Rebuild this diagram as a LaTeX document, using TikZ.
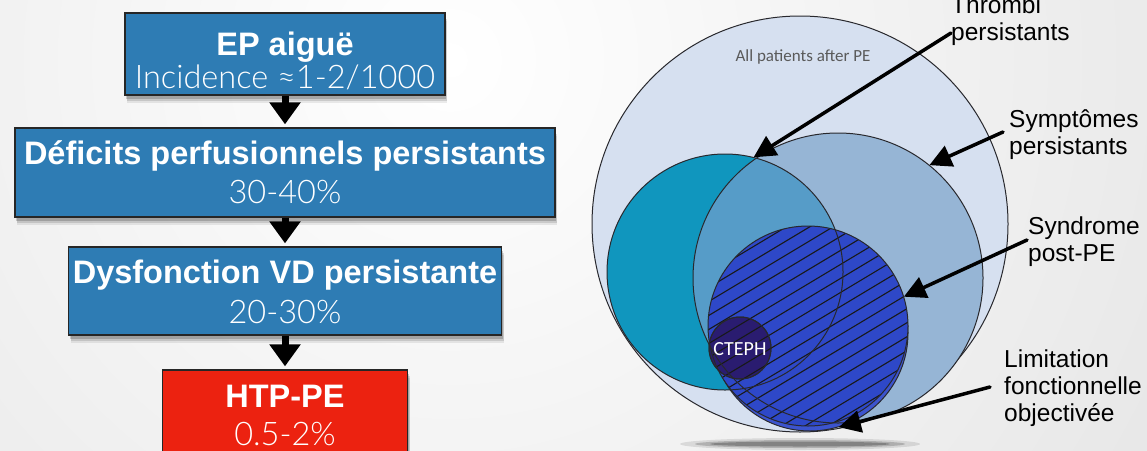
\documentclass[tikz,border=0pt]{standalone}
\usepackage{fontspec}
\setmainfont{Liberation Sans}
\newfontfamily\calibrifont{Carlito}
\IfFontExistsTF{Lato Light}
  {\newfontfamily\lightfont{Lato Light}}
  {\newfontfamily\lightfont{Liberation Sans}}
\usetikzlibrary{arrows.meta}

\definecolor{bggray}{RGB}{214,214,214}
\definecolor{boxblue}{RGB}{46,124,180}
\definecolor{boxred}{RGB}{236,34,16}
\definecolor{outerfill}{RGB}{214,224,240}
\definecolor{tealfill}{RGB}{16,150,190}
\definecolor{symfill}{RGB}{150,181,213}
\definecolor{overlapfill}{RGB}{86,156,200}
\definecolor{synfill}{RGB}{46,72,200}
\definecolor{limfill}{RGB}{60,84,206}
\definecolor{ctephfill}{RGB}{42,28,112}
\definecolor{labelgray}{RGB}{90,90,90}
\definecolor{edgegray}{RGB}{40,40,45}

\tikzset{
  flowbox/.style={rectangle, draw=black!85, line width=1.3pt, inner sep=0pt,
    align=center, text=white,
    preaction={fill=black, opacity=0.08, transform canvas={xshift=2pt, yshift=-8pt}},
    preaction={fill=black, opacity=0.12, transform canvas={xshift=2pt, yshift=-6pt}},
    preaction={fill=black, opacity=0.18, transform canvas={xshift=1pt, yshift=-4pt}}},
  bluebox/.style={flowbox, fill=boxblue},
  redbox/.style={flowbox, fill=boxred},
  flowarrow/.style={line width=7pt, black, -{Triangle[length=22pt, width=30pt]}, shorten >=3pt},
  sketcharrow/.style={line width=3.5pt, black, -{Triangle[length=22pt, width=22pt]}, line cap=round},
  calloutlbl/.style={font=\fontsize{24.5}{27}\selectfont, align=left, inner sep=0pt,
    anchor=west, text=black},
  disc/.style={circle, inner sep=0pt},
  ringline/.style={draw=edgegray, line width=1pt},
  hatchline/.style={draw=black!90, line width=1.1pt}
}

\begin{document}
\begin{tikzpicture}[x=1pt, y=-1pt]
\useasboundingbox (0,0) rectangle (1147,450);

% soft grey backdrop with a bright centre
\begin{scope}
  \clip (0,0) rectangle (1147,450);
  \fill[bggray] (0,0) rectangle (1147,450);
  \shade[inner color=white, outer color=bggray] (450,60) circle[radius=1400];
\end{scope}

% ---------------- flow chart ----------------
\node[bluebox, minimum width=320pt, minimum height=82pt,
      font=\fontsize{32.5}{33}\selectfont] (ep) at (285,54)
  {{\bfseries\rule{0pt}{37pt}EP aiguë}\\{\lightfont\rule[-2pt]{0pt}{2pt}Incidence ≈1-2/1000}};

\node[bluebox, minimum width=540pt, minimum height=89pt,
      font=\fontsize{32.5}{39}\selectfont] (def) at (285,172.5)
  {{\bfseries\rule{0pt}{25pt}Déficits perfusionnels persistants}\\{\lightfont\rule[-3pt]{0pt}{3pt}30-40\%}};

\node[bluebox, minimum width=433pt, minimum height=88pt,
      font=\fontsize{32.5}{40}\selectfont] (dys) at (285,291)
  {{\bfseries\rule{0pt}{27pt}Dysfonction VD persistante}\\{\lightfont\rule[-3pt]{0pt}{3pt}20-30\%}};

\node[redbox, minimum width=245pt, minimum height=100pt,
      font=\fontsize{32.5}{38}\selectfont] (htp) at (285,420)
  {{\bfseries\rule{0pt}{26pt}HTP-PE}\\{\lightfont\rule[-14pt]{0pt}{14pt}0.5-2\%}};

\draw[flowarrow] (ep.south) -- (def.north);
\draw[flowarrow] (def.south) -- (dys.north);
\draw[flowarrow] (dys.south) -- (htp.north);

% ---------------- nested circles ----------------
% shadow under the large disc
\fill[black, opacity=0.10] (800,444) ellipse[x radius=120, y radius=6];
\fill[black, opacity=0.18] (800,444) ellipse[x radius=105, y radius=4];
\fill[black, opacity=0.25] (800,444) ellipse[x radius=90, y radius=2.5];

\node[disc, fill=outerfill, draw=edgegray, line width=1pt, minimum size=416pt] (outer) at (800,224) {};
\node[disc, fill=tealfill, minimum size=236pt] (teal) at (725,272) {};
\node[disc, fill=symfill, minimum size=290pt] (sym) at (838,278) {};
\begin{scope}
  \clip (725,272) circle[radius=118];
  \fill[overlapfill] (838,278) circle[radius=145];
\end{scope}

\node[disc, fill=limfill, draw=edgegray, line width=1pt, minimum size=196pt] (lim) at (810,333) {};
\node[disc, fill=synfill, minimum size=200pt] (syn) at (808,326) {};
\node[disc, fill=ctephfill, draw=edgegray, line width=1pt, minimum size=62pt] (cteph) at (740,348) {};

% diagonal hatching of the post-PE syndrome disc
\begin{scope}
  \clip (syn.center) circle[radius=100];
  \foreach \k in {-10,...,10}
    \draw[hatchline] ({808+\k*6.2-140},{326+\k*10.3+84}) -- ({808+\k*6.2+140},{326+\k*10.3-84});
\end{scope}

% circle outlines on top
\draw[ringline] (teal.center) circle[radius=118];
\draw[ringline] (sym.center) circle[radius=145];
\draw[ringline] (syn.center) circle[radius=100];
\draw[ringline] (cteph.center) circle[radius=31];

\node[text=labelgray, inner sep=0pt] (allpe) at (803,57)
  {\calibrifont\fontsize{17}{20}\selectfont All patients after PE};
\node[text=white, inner sep=0pt] (ctephlbl) at (740,349)
  {\calibrifont\fontsize{20}{22}\selectfont CTEPH};

% callout labels
\node[calloutlbl] (thrlbl) at (951,21) {Thrombi\\persistants};
\node[calloutlbl] (symlbl) at (1009,135) {Symptômes\\persistants};
\node[calloutlbl] (synlbl) at (1028,242) {Syndrome\\post-PE};
\node[calloutlbl] (limlbl) at (1004,388) {Limitation\\fonctionnelle\\objectivée};

\draw[sketcharrow] ([yshift=-12pt]thrlbl.west) -- (teal.76);
\draw[sketcharrow] ([xshift=-6pt, yshift=3pt]symlbl.west) -- (sym.51);
\draw[sketcharrow] ([xshift=-1pt, yshift=2pt]synlbl.west) -- (syn.17);
\draw[sketcharrow] ([xshift=-14pt, yshift=1pt]limlbl.west) -- (lim.-73);
\end{tikzpicture}
\end{document}
